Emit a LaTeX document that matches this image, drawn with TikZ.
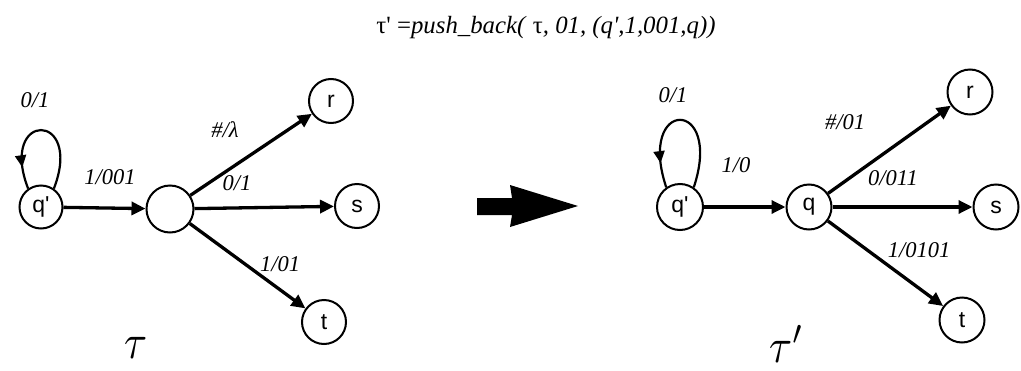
\documentclass[tikz,border=0pt]{standalone}
\usepackage{fontspec}
\usepackage{graphicx}
\setmainfont{Liberation Serif}
\newfontfamily\statefont{Liberation Sans}
\usetikzlibrary{arrows.meta,decorations.markings}

\begin{document}
\begin{tikzpicture}[x=1pt,y=-1pt,
  state/.style={circle,draw,line width=2pt,inner sep=0pt,minimum size=#1,
    fill=white,font=\statefont\fontsize{23}{23}\selectfont},
  state/.default=44pt,
  edge/.style={line width=3.3pt,-{Triangle[length=14pt,width=13pt]}},
  lbl/.style={inner sep=0pt,font=\fontsize{22.5}{22.5}\selectfont\itshape},
  selfloop/.style={line width=2.2pt,postaction={decorate},
    decoration={markings,mark=at position #1 with {\arrow{Triangle[length=12pt,width=11pt]}}}},
  bigname/.style={inner sep=0pt}
]
\useasboundingbox (0,0) rectangle (1021,370);

% formula
\node[inner sep=0pt,font=\fontsize{24.8}{24.8}\selectfont] (title) at (546,28)
  {τ\textquotesingle\ =\textit{push\_back(} τ\textit{, 01, (q\textquotesingle,1,001,q))}};

% ---------- left transducer ----------
\node[state=43pt] (lq1) at (41,207) {q\textquotesingle};
\node[state=47pt] (lm) at (170,209) {};
\node[state] (lr) at (331,101) {r};
\node[state] (ls) at (357,206) {s};
\node[state] (lt) at (324,322) {t};

\draw[selfloop=0.84] (lq1.55) .. controls +(30,-78) and +(-30,-78) .. (lq1.125);
\draw[edge] (lq1) -- (lm);
\draw[edge] (lm) -- (lr);
\draw[edge] (lm) -- (ls);
\draw[edge] (lm) -- (lt);

\node[lbl] (l1) at (35,100) {0/1};
\node[lbl] (l2) at (110,177) {1/001};
\node[lbl] (l3) at (225,130) {\#/λ};
\node[lbl] (l4) at (237,183) {0/1};
\node[lbl] (l5) at (280,264) {1/01};
\node[bigname] (tau) at (136,348) {\scalebox{4.2}[4.9]{$\tau$}};

% ---------- transformation arrow ----------
\fill (477,198) -- (512,198) -- (510,185) -- (578,206) -- (510,227)
  -- (512,215) -- (477,215) -- cycle;

% ---------- right transducer ----------
\node[state=46pt] (rq1) at (680,207) {q\textquotesingle};
\node[state=45pt] (rq) at (809,207) {q};
\node[state=45pt] (rr) at (970,92) {r};
\node[state=45pt] (rs) at (996,207) {s};
\node[state=45pt] (rt) at (962,320) {t};

\draw[selfloop=0.84] (rq1.55) .. controls +(30,-90) and +(-30,-90) .. (rq1.125);
\draw[edge] (rq1) -- (rq);
\draw[edge] (rq) -- (rr);
\draw[edge] (rq) -- (rs);
\draw[edge] (rq) -- (rt);

\node[lbl] (r1) at (673,95) {0/1};
\node[lbl] (r2) at (736,165) {1/0};
\node[lbl] (r3) at (845,122) {\#/01};
\node[lbl] (r4) at (893,178) {0/011};
\node[lbl] (r5) at (919,250) {1/0101};
\node[bigname] (taup) at (787,344) {\scalebox{4.2}[4.9]{$\tau'$}};
\end{tikzpicture}
\end{document}
